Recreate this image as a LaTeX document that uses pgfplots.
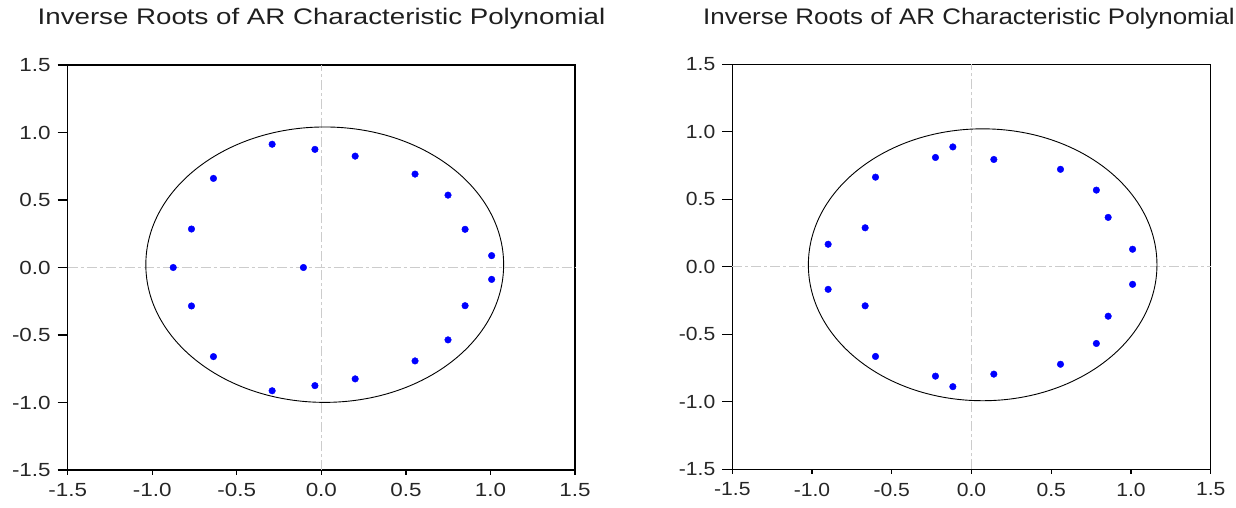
\documentclass[border=0pt]{standalone}
\usepackage{fontspec}
\setmainfont{Liberation Sans}
\newfontfamily\tickfontL[FakeStretch=1.18]{Liberation Sans}
\newfontfamily\tickfontR[FakeStretch=1.11]{Liberation Sans}
\newfontfamily\titlefontL[FakeStretch=1.23]{Liberation Sans}
\newfontfamily\titlefontR[FakeStretch=1.152]{Liberation Sans}
\usepackage{pgfplots}
\pgfplotsset{compat=1.18}

\tikzset{
  zeroline/.style={black!20, line width=0.9pt, dash pattern=on 10pt off 3pt on 3pt off 3pt},
}
\pgfplotsset{
  rootplot/.style={
    scale only axis, height=405pt,
    xmin=-1.5, xmax=1.5, ymin=-1.5, ymax=1.5,
    xtick={-1.5,-1,-0.5,0,0.5,1,1.5},
    ytick={-1.5,-1,-0.5,0,0.5,1,1.5},
    xticklabels={-1.5,-1.0,-0.5,0.0,0.5,1.0,1.5},
    yticklabels={-1.5,-1.0,-0.5,0.0,0.5,1.0,1.5},
    tick align=outside, xtick pos=left, ytick pos=left,
    major tick length=10pt,
    axis line style={line width=1.3pt},
    tick style={black, line width=1.2pt},
    x tick style={draw=none},
    yticklabel style={xshift=-3.5pt},
    tick label style={text=black!85},
    clip=false,
  },
  rootmark/.style={only marks, mark=*, mark size=3.3pt, color=blue, mark options={fill=blue, draw=blue}},
}

\begin{document}
\begin{tikzpicture}
\useasboundingbox (0,0) rectangle (1236pt,507pt);

\node[anchor=base, font=\titlefontL\fontsize{22.5}{26}\selectfont, text=black!88] at (321.5pt,482pt) {Inverse Roots of AR Characteristic Polynomial};
\node[anchor=base, font=\titlefontR\fontsize{22.5}{26}\selectfont, text=black!88] at (969pt,482pt) {Inverse Roots of AR Characteristic Polynomial};

% left panel
\begin{axis}[rootplot, width=507.3pt, at={(67.7pt,37pt)}, anchor=south west,
  tick label style={font=\tickfontL\fontsize{19}{22}\selectfont}]
\draw[zeroline] (axis cs:-1.5,0) -- (axis cs:1.5,0);
\draw[zeroline] (axis cs:0,-1.5) -- (axis cs:0,1.5);
\pgfplotsinvokeforeach{-1.5,-1,-0.5,0,0.5,1,1.5}{
  \draw[black, line width=1.2pt] (axis cs:#1,-1.5) -- ([yshift=-5pt]axis cs:#1,-1.5);
}
\draw[black, line width=0.9pt] (axis cs:0.02,0.021) ellipse [x radius=1.058, y radius=1.02];
\addplot[rootmark] coordinates {
  (-0.291,0.913) (-0.291,-0.913)
  (-0.038,0.875) (-0.038,-0.875)
  (0.200,0.825) (0.200,-0.825)
  (0.554,0.692) (0.554,-0.692)
  (0.749,0.536) (0.749,-0.536)
  (0.850,0.283) (0.850,-0.283)
  (1.007,0.088) (1.007,-0.088)
  (-0.638,0.660) (-0.638,-0.660)
  (-0.768,0.285) (-0.768,-0.285)
  (-0.876,0) (-0.106,0)
};
\end{axis}

% right panel
\begin{axis}[rootplot, width=478.4pt, at={(732.3pt,37.7pt)}, anchor=south west,
  tick label style={font=\tickfontR\fontsize{19}{22}\selectfont}]
\draw[zeroline] (axis cs:-1.5,0) -- (axis cs:1.5,0);
\draw[zeroline] (axis cs:0,-1.5) -- (axis cs:0,1.5);
\pgfplotsinvokeforeach{-1.5,-1,-0.5,0,0.5,1,1.5}{
  \draw[black, line width=1.2pt] (axis cs:#1,-1.5) -- ([yshift=-5pt]axis cs:#1,-1.5);
}
\draw[black, line width=0.9pt] (axis cs:0.07,0.015) ellipse [x radius=1.093, y radius=1.007];
\addplot[rootmark] coordinates {
  (-0.117,0.888) (-0.117,-0.888)
  (-0.226,0.810) (-0.226,-0.810)
  (-0.602,0.664) (-0.602,-0.664)
  (-0.667,0.289) (-0.667,-0.289)
  (-0.899,0.167) (-0.899,-0.167)
  (0.140,0.795) (0.140,-0.795)
  (0.558,0.722) (0.558,-0.722)
  (0.783,0.568) (0.783,-0.568)
  (0.857,0.366) (0.857,-0.366)
  (1.010,0.130) (1.010,-0.130)
};
\end{axis}
\end{tikzpicture}
\end{document}
